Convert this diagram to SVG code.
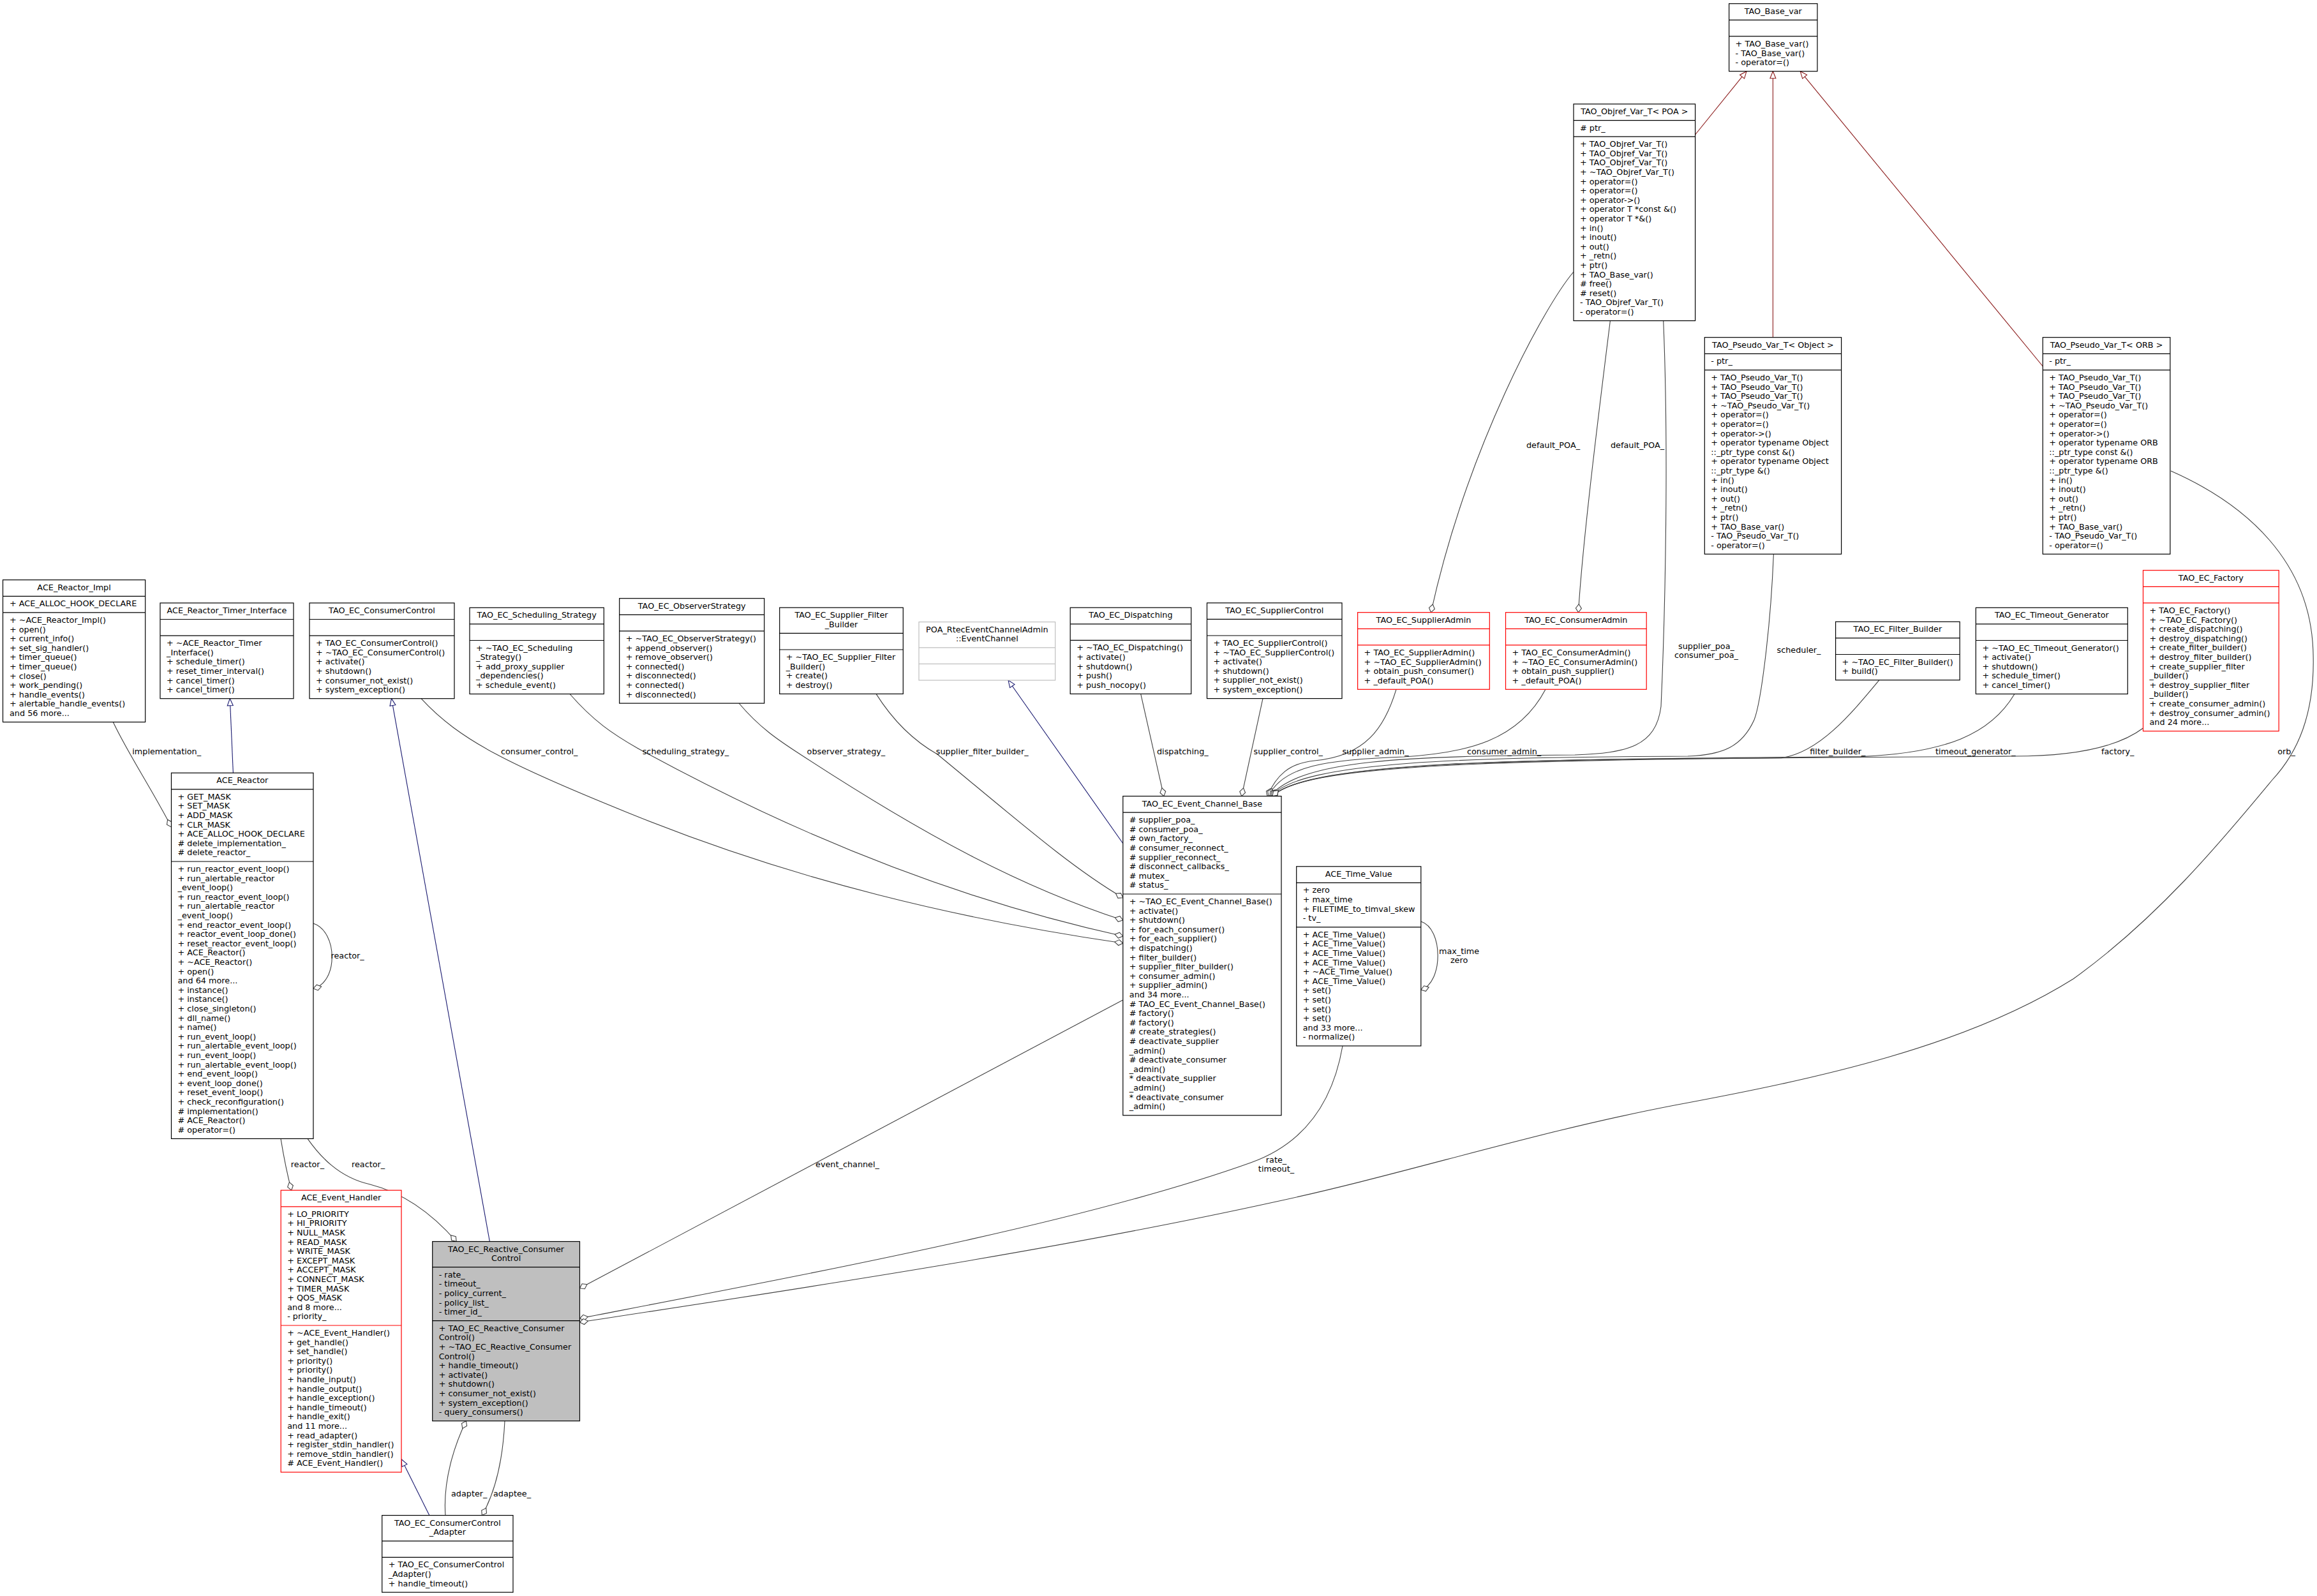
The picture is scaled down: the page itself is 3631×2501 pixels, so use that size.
<svg xmlns="http://www.w3.org/2000/svg" width="3631" height="2501" viewBox="0 0 3631 2501">
<style>
text{font-family:"DejaVu Sans","Liberation Sans",sans-serif;font-size:12.8px;fill:#000}
.c{text-anchor:middle}
.b{fill:#fff;stroke:#000;stroke-width:1.2}
.l{fill:none;stroke:#000;stroke-width:1.2}
.red .b,.red .l{stroke:#ff0000}
.gry .b,.gry .l{stroke:#bfbfbf}
.sel .b{fill:#bfbfbf}
.e{fill:none;stroke:#404040;stroke-width:1.1;marker-end:url(#dia)}
.ib{fill:none;stroke:#191970;stroke-width:1.1;marker-end:url(#trib)}
.ir{fill:none;stroke:#8b1a1a;stroke-width:1.1;marker-end:url(#trir)}
</style>
<defs>
<marker id="dia" markerUnits="userSpaceOnUse" markerWidth="16" markerHeight="12" viewBox="-14 -6 16 12" refX="0" refY="0" orient="auto"><path d="M0,0 L-6.5,-4.5 L-13,0 L-6.5,4.5Z" fill="#fff" stroke="#404040" stroke-width="1.1"/></marker>
<marker id="trib" markerUnits="userSpaceOnUse" markerWidth="14" markerHeight="12" viewBox="-13 -6 14 12" refX="0" refY="0" orient="auto"><path d="M0,0 L-11,-4.5 L-11,4.5Z" fill="#fff" stroke="#191970" stroke-width="1.1"/></marker>
<marker id="trir" markerUnits="userSpaceOnUse" markerWidth="14" markerHeight="12" viewBox="-13 -6 14 12" refX="0" refY="0" orient="auto"><path d="M0,0 L-11,-4.5 L-11,4.5Z" fill="#fff" stroke="#8b1a1a" stroke-width="1.1"/></marker>
</defs>
<rect width="3631" height="2501" fill="#fff"/>

<g id="edges">
<path class="ib" d="M365.4,1211.2 L360.3,1094.7"/>
<path class="ib" d="M767.4,1945.5 L613.5,1094.7"/>
<path class="ib" d="M672.8,2374.6 L629,2286.6"/>
<path class="ib" d="M1760,1322 L1580,1066"/>
<path class="ir" d="M2656.6,211 L2737,111.7"/>
<path class="ir" d="M2778.4,528.7 L2778.4,111.7"/>
<path class="ir" d="M3201.3,574 L2821.2,111.7"/>
<path class="e" d="M177.3,1131.5 C200,1180 240,1240 268.5,1296"/>
<path class="e" d="M491,1447 C530,1460 530,1540 491,1549"/>
<path class="e" d="M440,1784.4 C445,1815 450,1840 456.7,1865.2"/>
<path class="e" d="M482,1784.4 C500,1810 530,1845 580,1856 C635,1870 680,1905 715.2,1945.5"/>
<path class="e" d="M1759.8,1567 L908.5,2018.8"/>
<path class="e" d="M2104,1639 C2090,1720 2050,1790 1960,1822 C1700,1915 1300,1990 908.5,2066"/>
<path class="e" d="M3402,738 C3520,790 3622,880 3625,1024 C3628,1120 3600,1180 3561,1222 C3480,1320 3380,1440 3249,1534 C3080,1640 2850,1690 2624,1732 C2400,1775 2200,1840 2000,1883 C1650,1960 1250,2020 908.5,2072"/>
<path class="e" d="M698,2374.6 C694,2320 712,2265 730.4,2226.7"/>
<path class="e" d="M791,2226.7 C788,2290 775,2340 755.4,2374.6"/>
<path class="e" d="M2226.8,1444 C2262,1455 2262,1540 2226.8,1551"/>
<path class="e" d="M660,1094.7 C720,1160 800,1200 1000,1280 C1250,1380 1500,1440 1759.8,1478"/>
<path class="e" d="M893,1087.5 C930,1130 960,1150 1000,1173 C1250,1310 1500,1410 1759.8,1467"/>
<path class="e" d="M1158,1102 C1190,1140 1220,1160 1254,1182 C1450,1310 1600,1390 1759.8,1442"/>
<path class="e" d="M1373,1087.4 C1400,1130 1430,1160 1469,1182 C1600,1290 1680,1360 1759.8,1406.8"/>
<path class="e" d="M1787.7,1087.4 L1823.8,1247.6"/>
<path class="e" d="M1979,1094.6 L1945.8,1247.6"/>
<path class="e" d="M2188,1080.3 C2170,1140 2140,1185 2060,1192 C2020,1196 2000,1215 1986,1247.6"/>
<path class="e" d="M2422,1080.3 C2380,1160 2300,1180 2200,1186 C2080,1190 2010,1200 1988,1247.6"/>
<path class="e" d="M2606.7,502.6 C2615,700 2610,950 2603,1107 C2595,1170 2550,1180 2468,1183 C2200,1185 2040,1190 1990,1247.6"/>
<path class="e" d="M2779.4,868.3 C2775,980 2760,1100 2749,1128 C2730,1170 2700,1183 2645,1185 C2300,1187 2040,1192 1992,1247.6"/>
<path class="e" d="M2945,1065.7 C2900,1120 2850,1180 2791,1187.7 C2400,1190 2050,1192 1994,1247.6"/>
<path class="e" d="M3157,1087.5 C3120,1150 3050,1180 2916,1185.6 C2400,1190 2050,1192 1994,1247.6"/>
<path class="e" d="M3358.5,1141 C3320,1170 3250,1185 3155,1185 C2400,1190 2050,1192 1994,1247.6"/>
<path class="e" d="M2466,426 C2420,480 2300,700 2242.5,959.7"/>
<path class="e" d="M2523.4,502.6 C2505,650 2480,850 2473.5,959.7"/>
<text x="207.3" y="1182">implementation_</text>
<text x="518.5" y="1502">reactor_</text>
<text x="785" y="1182">consumer_control_</text>
<text x="1006.7" y="1182">scheduling_strategy_</text>
<text x="1264.6" y="1182">observer_strategy_</text>
<text x="1466.8" y="1182">supplier_filter_builder_</text>
<text x="1813" y="1182">dispatching_</text>
<text x="1964.5" y="1182">supplier_control_</text>
<text x="2103.4" y="1182">supplier_admin_</text>
<text x="2299" y="1182">consumer_admin_</text>
<text x="2836.3" y="1182">filter_builder_</text>
<text x="3032.9" y="1182">timeout_generator_</text>
<text x="3293" y="1182">factory_</text>
<text x="3569.2" y="1182">orb_</text>
<text class="c" x="2674" y="1016.5">supplier_poa_</text>
<text class="c" x="2674" y="1031">consumer_poa_</text>
<text class="c" x="2819" y="1022.5">scheduler_</text>
<text class="c" x="2434" y="702">default_POA_</text>
<text class="c" x="2566" y="702">default_POA_</text>
<text x="455.8" y="1829">reactor_</text>
<text x="551" y="1829">reactor_</text>
<text class="c" x="1328" y="1828.5">event_channel_</text>
<text class="c" x="2000" y="1821.5">rate_</text>
<text class="c" x="2000" y="1836">timeout_</text>
<text class="c" x="2286.6" y="1494.5">max_time</text>
<text class="c" x="2286.6" y="1509">zero</text>
<text x="707" y="2345">adapter_</text>
<text x="773" y="2345">adaptee_</text>
</g>

<g id="n1"><rect class="b" x="4.5" y="908.7" width="223.2" height="222.8"/><path class="l" d="M4.5,934.3h223.2M4.5,959.9h223.2"/>
<text class="c" x="116.1" y="924.7">ACE_Reactor_Impl</text>
<text x="15" y="950.3">+ ACE_ALLOC_HOOK_DECLARE</text>
<text x="15" y="975.9"><tspan x="15" dy="0">+ ~ACE_Reactor_Impl()</tspan><tspan x="15" dy="14.6">+ open()</tspan><tspan x="15" dy="14.6">+ current_info()</tspan><tspan x="15" dy="14.6">+ set_sig_handler()</tspan><tspan x="15" dy="14.6">+ timer_queue()</tspan><tspan x="15" dy="14.6">+ timer_queue()</tspan><tspan x="15" dy="14.6">+ close()</tspan><tspan x="15" dy="14.6">+ work_pending()</tspan><tspan x="15" dy="14.6">+ handle_events()</tspan><tspan x="15" dy="14.6">+ alertable_handle_events()</tspan><tspan x="15" dy="14.6">and 56 more...</tspan></text></g>

<g id="n2"><rect class="b" x="251" y="944.9" width="209" height="149.8"/><path class="l" d="M251,970.5h209M251,996.1h209"/>
<text class="c" x="355.5" y="960.9">ACE_Reactor_Timer_Interface</text>
<text x="261" y="1012.1"><tspan x="261" dy="0">+ ~ACE_Reactor_Timer</tspan><tspan x="261" dy="14.6">_Interface()</tspan><tspan x="261" dy="14.6">+ schedule_timer()</tspan><tspan x="261" dy="14.6">+ reset_timer_interval()</tspan><tspan x="261" dy="14.6">+ cancel_timer()</tspan><tspan x="261" dy="14.6">+ cancel_timer()</tspan></text></g>

<g id="n3"><rect class="b" x="485" y="944.9" width="227" height="149.8"/><path class="l" d="M485,970.5h227M485,996.1h227"/>
<text class="c" x="598.5" y="960.9">TAO_EC_ConsumerControl</text>
<text x="495" y="1012.1"><tspan x="495" dy="0">+ TAO_EC_ConsumerControl()</tspan><tspan x="495" dy="14.6">+ ~TAO_EC_ConsumerControl()</tspan><tspan x="495" dy="14.6">+ activate()</tspan><tspan x="495" dy="14.6">+ shutdown()</tspan><tspan x="495" dy="14.6">+ consumer_not_exist()</tspan><tspan x="495" dy="14.6">+ system_exception()</tspan></text></g>

<g id="n4"><rect class="b" x="736" y="952.3" width="210.4" height="135.2"/><path class="l" d="M736,977.9h210.4M736,1003.5h210.4"/>
<text class="c" x="841.2" y="968.3">TAO_EC_Scheduling_Strategy</text>
<text x="746" y="1019.5"><tspan x="746" dy="0">+ ~TAO_EC_Scheduling</tspan><tspan x="746" dy="14.6">_Strategy()</tspan><tspan x="746" dy="14.6">+ add_proxy_supplier</tspan><tspan x="746" dy="14.6">_dependencies()</tspan><tspan x="746" dy="14.6">+ schedule_event()</tspan></text></g>

<g id="n5"><rect class="b" x="970.7" y="937.7" width="227" height="164.4"/><path class="l" d="M970.7,963.3h227M970.7,988.9h227"/>
<text class="c" x="1084.2" y="953.7">TAO_EC_ObserverStrategy</text>
<text x="980.7" y="1004.9"><tspan x="980.7" dy="0">+ ~TAO_EC_ObserverStrategy()</tspan><tspan x="980.7" dy="14.6">+ append_observer()</tspan><tspan x="980.7" dy="14.6">+ remove_observer()</tspan><tspan x="980.7" dy="14.6">+ connected()</tspan><tspan x="980.7" dy="14.6">+ disconnected()</tspan><tspan x="980.7" dy="14.6">+ connected()</tspan><tspan x="980.7" dy="14.6">+ disconnected()</tspan></text></g>

<g id="n6"><rect class="b" x="1221.7" y="952.2" width="193.6" height="135.2"/><path class="l" d="M1221.7,992.4h193.6M1221.7,1018h193.6"/>
<text class="c" x="1318.5" y="968.2">TAO_EC_Supplier_Filter</text>
<text class="c" x="1318.5" y="982.8">_Builder</text>
<text x="1231.7" y="1034"><tspan x="1231.7" dy="0">+ ~TAO_EC_Supplier_Filter</tspan><tspan x="1231.7" dy="14.6">_Builder()</tspan><tspan x="1231.7" dy="14.6">+ create()</tspan><tspan x="1231.7" dy="14.6">+ destroy()</tspan></text></g>

<g id="n7" class="gry"><rect class="b" x="1440" y="974.6" width="213.7" height="91.4"/><path class="l" d="M1440,1014.8h213.7M1440,1040.4h213.7"/>
<text class="c" x="1546.85" y="990.6">POA_RtecEventChannelAdmin</text>
<text class="c" x="1546.85" y="1005.2">::EventChannel</text></g>

<g id="n8"><rect class="b" x="1677.2" y="952.2" width="189.5" height="135.2"/><path class="l" d="M1677.2,977.8h189.5M1677.2,1003.4h189.5"/>
<text class="c" x="1771.95" y="968.2">TAO_EC_Dispatching</text>
<text x="1687.2" y="1019.4"><tspan x="1687.2" dy="0">+ ~TAO_EC_Dispatching()</tspan><tspan x="1687.2" dy="14.6">+ activate()</tspan><tspan x="1687.2" dy="14.6">+ shutdown()</tspan><tspan x="1687.2" dy="14.6">+ push()</tspan><tspan x="1687.2" dy="14.6">+ push_nocopy()</tspan></text></g>

<g id="n9"><rect class="b" x="1891.5" y="944.8" width="211.5" height="149.8"/><path class="l" d="M1891.5,970.4h211.5M1891.5,996h211.5"/>
<text class="c" x="1997.25" y="960.8">TAO_EC_SupplierControl</text>
<text x="1901.5" y="1012"><tspan x="1901.5" dy="0">+ TAO_EC_SupplierControl()</tspan><tspan x="1901.5" dy="14.6">+ ~TAO_EC_SupplierControl()</tspan><tspan x="1901.5" dy="14.6">+ activate()</tspan><tspan x="1901.5" dy="14.6">+ shutdown()</tspan><tspan x="1901.5" dy="14.6">+ supplier_not_exist()</tspan><tspan x="1901.5" dy="14.6">+ system_exception()</tspan></text></g>

<g id="n10" class="red"><rect class="b" x="2127.6" y="959.7" width="206.7" height="120.6"/><path class="l" d="M2127.6,985.3h206.7M2127.6,1010.9h206.7"/>
<text class="c" x="2230.95" y="975.7">TAO_EC_SupplierAdmin</text>
<text x="2137.6" y="1026.9"><tspan x="2137.6" dy="0">+ TAO_EC_SupplierAdmin()</tspan><tspan x="2137.6" dy="14.6">+ ~TAO_EC_SupplierAdmin()</tspan><tspan x="2137.6" dy="14.6">+ obtain_push_consumer()</tspan><tspan x="2137.6" dy="14.6">+ _default_POA()</tspan></text></g>

<g id="n11" class="red"><rect class="b" x="2359.5" y="959.7" width="220.7" height="120.6"/><path class="l" d="M2359.5,985.3h220.7M2359.5,1010.9h220.7"/>
<text class="c" x="2469.85" y="975.7">TAO_EC_ConsumerAdmin</text>
<text x="2369.5" y="1026.9"><tspan x="2369.5" dy="0">+ TAO_EC_ConsumerAdmin()</tspan><tspan x="2369.5" dy="14.6">+ ~TAO_EC_ConsumerAdmin()</tspan><tspan x="2369.5" dy="14.6">+ obtain_push_supplier()</tspan><tspan x="2369.5" dy="14.6">+ _default_POA()</tspan></text></g>

<g id="n12"><rect class="b" x="2876.6" y="974.3" width="194.6" height="91.4"/><path class="l" d="M2876.6,999.9h194.6M2876.6,1025.5h194.6"/>
<text class="c" x="2973.9" y="990.3">TAO_EC_Filter_Builder</text>
<text x="2886.6" y="1041.5"><tspan x="2886.6" dy="0">+ ~TAO_EC_Filter_Builder()</tspan><tspan x="2886.6" dy="14.6">+ build()</tspan></text></g>

<g id="n13"><rect class="b" x="3096.4" y="952.3" width="237.9" height="135.2"/><path class="l" d="M3096.4,977.9h237.9M3096.4,1003.5h237.9"/>
<text class="c" x="3215.35" y="968.3">TAO_EC_Timeout_Generator</text>
<text x="3106.4" y="1019.5"><tspan x="3106.4" dy="0">+ ~TAO_EC_Timeout_Generator()</tspan><tspan x="3106.4" dy="14.6">+ activate()</tspan><tspan x="3106.4" dy="14.6">+ shutdown()</tspan><tspan x="3106.4" dy="14.6">+ schedule_timer()</tspan><tspan x="3106.4" dy="14.6">+ cancel_timer()</tspan></text></g>

<g id="n14" class="red"><rect class="b" x="3358.5" y="893.7" width="212.7" height="252"/><path class="l" d="M3358.5,919.3h212.7M3358.5,944.9h212.7"/>
<text class="c" x="3464.85" y="909.7">TAO_EC_Factory</text>
<text x="3368.5" y="960.9"><tspan x="3368.5" dy="0">+ TAO_EC_Factory()</tspan><tspan x="3368.5" dy="14.6">+ ~TAO_EC_Factory()</tspan><tspan x="3368.5" dy="14.6">+ create_dispatching()</tspan><tspan x="3368.5" dy="14.6">+ destroy_dispatching()</tspan><tspan x="3368.5" dy="14.6">+ create_filter_builder()</tspan><tspan x="3368.5" dy="14.6">+ destroy_filter_builder()</tspan><tspan x="3368.5" dy="14.6">+ create_supplier_filter</tspan><tspan x="3368.5" dy="14.6">_builder()</tspan><tspan x="3368.5" dy="14.6">+ destroy_supplier_filter</tspan><tspan x="3368.5" dy="14.6">_builder()</tspan><tspan x="3368.5" dy="14.6">+ create_consumer_admin()</tspan><tspan x="3368.5" dy="14.6">+ destroy_consumer_admin()</tspan><tspan x="3368.5" dy="14.6">and 24 more...</tspan></text></g>

<g id="n15"><rect class="b" x="2709.6" y="5.7" width="138.4" height="106"/><path class="l" d="M2709.6,31.3h138.4M2709.6,56.9h138.4"/>
<text class="c" x="2778.8" y="21.7">TAO_Base_var</text>
<text x="2719.6" y="72.9"><tspan x="2719.6" dy="0">+ TAO_Base_var()</tspan><tspan x="2719.6" dy="14.6">- TAO_Base_var()</tspan><tspan x="2719.6" dy="14.6">- operator=()</tspan></text></g>

<g id="n16"><rect class="b" x="2466" y="163" width="190.6" height="339.6"/><path class="l" d="M2466,188.6h190.6M2466,214.2h190.6"/>
<text class="c" x="2561.3" y="179">TAO_Objref_Var_T&lt; POA &gt;</text>
<text x="2476" y="204.6"># ptr_</text>
<text x="2476" y="230.2"><tspan x="2476" dy="0">+ TAO_Objref_Var_T()</tspan><tspan x="2476" dy="14.6">+ TAO_Objref_Var_T()</tspan><tspan x="2476" dy="14.6">+ TAO_Objref_Var_T()</tspan><tspan x="2476" dy="14.6">+ ~TAO_Objref_Var_T()</tspan><tspan x="2476" dy="14.6">+ operator=()</tspan><tspan x="2476" dy="14.6">+ operator=()</tspan><tspan x="2476" dy="14.6">+ operator-&gt;()</tspan><tspan x="2476" dy="14.6">+ operator T *const &amp;()</tspan><tspan x="2476" dy="14.6">+ operator T *&amp;()</tspan><tspan x="2476" dy="14.6">+ in()</tspan><tspan x="2476" dy="14.6">+ inout()</tspan><tspan x="2476" dy="14.6">+ out()</tspan><tspan x="2476" dy="14.6">+ _retn()</tspan><tspan x="2476" dy="14.6">+ ptr()</tspan><tspan x="2476" dy="14.6">+ TAO_Base_var()</tspan><tspan x="2476" dy="14.6"># free()</tspan><tspan x="2476" dy="14.6"># reset()</tspan><tspan x="2476" dy="14.6">- TAO_Objref_Var_T()</tspan><tspan x="2476" dy="14.6">- operator=()</tspan></text></g>

<g id="n17"><rect class="b" x="2671.3" y="528.7" width="214.3" height="339.6"/><path class="l" d="M2671.3,554.3h214.3M2671.3,579.9h214.3"/>
<text class="c" x="2778.45" y="544.7">TAO_Pseudo_Var_T&lt; Object &gt;</text>
<text x="2681.3" y="570.3">- ptr_</text>
<text x="2681.3" y="595.9"><tspan x="2681.3" dy="0">+ TAO_Pseudo_Var_T()</tspan><tspan x="2681.3" dy="14.6">+ TAO_Pseudo_Var_T()</tspan><tspan x="2681.3" dy="14.6">+ TAO_Pseudo_Var_T()</tspan><tspan x="2681.3" dy="14.6">+ ~TAO_Pseudo_Var_T()</tspan><tspan x="2681.3" dy="14.6">+ operator=()</tspan><tspan x="2681.3" dy="14.6">+ operator=()</tspan><tspan x="2681.3" dy="14.6">+ operator-&gt;()</tspan><tspan x="2681.3" dy="14.6">+ operator typename Object</tspan><tspan x="2681.3" dy="14.6">::_ptr_type const &amp;()</tspan><tspan x="2681.3" dy="14.6">+ operator typename Object</tspan><tspan x="2681.3" dy="14.6">::_ptr_type &amp;()</tspan><tspan x="2681.3" dy="14.6">+ in()</tspan><tspan x="2681.3" dy="14.6">+ inout()</tspan><tspan x="2681.3" dy="14.6">+ out()</tspan><tspan x="2681.3" dy="14.6">+ _retn()</tspan><tspan x="2681.3" dy="14.6">+ ptr()</tspan><tspan x="2681.3" dy="14.6">+ TAO_Base_var()</tspan><tspan x="2681.3" dy="14.6">- TAO_Pseudo_Var_T()</tspan><tspan x="2681.3" dy="14.6">- operator=()</tspan></text></g>

<g id="n18"><rect class="b" x="3201.3" y="528.7" width="199.6" height="339.6"/><path class="l" d="M3201.3,554.3h199.6M3201.3,579.9h199.6"/>
<text class="c" x="3301.1" y="544.7">TAO_Pseudo_Var_T&lt; ORB &gt;</text>
<text x="3211.3" y="570.3">- ptr_</text>
<text x="3211.3" y="595.9"><tspan x="3211.3" dy="0">+ TAO_Pseudo_Var_T()</tspan><tspan x="3211.3" dy="14.6">+ TAO_Pseudo_Var_T()</tspan><tspan x="3211.3" dy="14.6">+ TAO_Pseudo_Var_T()</tspan><tspan x="3211.3" dy="14.6">+ ~TAO_Pseudo_Var_T()</tspan><tspan x="3211.3" dy="14.6">+ operator=()</tspan><tspan x="3211.3" dy="14.6">+ operator=()</tspan><tspan x="3211.3" dy="14.6">+ operator-&gt;()</tspan><tspan x="3211.3" dy="14.6">+ operator typename ORB</tspan><tspan x="3211.3" dy="14.6">::_ptr_type const &amp;()</tspan><tspan x="3211.3" dy="14.6">+ operator typename ORB</tspan><tspan x="3211.3" dy="14.6">::_ptr_type &amp;()</tspan><tspan x="3211.3" dy="14.6">+ in()</tspan><tspan x="3211.3" dy="14.6">+ inout()</tspan><tspan x="3211.3" dy="14.6">+ out()</tspan><tspan x="3211.3" dy="14.6">+ _retn()</tspan><tspan x="3211.3" dy="14.6">+ ptr()</tspan><tspan x="3211.3" dy="14.6">+ TAO_Base_var()</tspan><tspan x="3211.3" dy="14.6">- TAO_Pseudo_Var_T()</tspan><tspan x="3211.3" dy="14.6">- operator=()</tspan></text></g>

<g id="n19"><rect class="b" x="268.5" y="1211.2" width="222.5" height="573.2"/><path class="l" d="M268.5,1236.8h222.5M268.5,1350h222.5"/>
<text class="c" x="379.75" y="1227.2">ACE_Reactor</text>
<text x="278.5" y="1252.8"><tspan x="278.5" dy="0">+ GET_MASK</tspan><tspan x="278.5" dy="14.6">+ SET_MASK</tspan><tspan x="278.5" dy="14.6">+ ADD_MASK</tspan><tspan x="278.5" dy="14.6">+ CLR_MASK</tspan><tspan x="278.5" dy="14.6">+ ACE_ALLOC_HOOK_DECLARE</tspan><tspan x="278.5" dy="14.6"># delete_implementation_</tspan><tspan x="278.5" dy="14.6"># delete_reactor_</tspan></text>
<text x="278.5" y="1366"><tspan x="278.5" dy="0">+ run_reactor_event_loop()</tspan><tspan x="278.5" dy="14.6">+ run_alertable_reactor</tspan><tspan x="278.5" dy="14.6">_event_loop()</tspan><tspan x="278.5" dy="14.6">+ run_reactor_event_loop()</tspan><tspan x="278.5" dy="14.6">+ run_alertable_reactor</tspan><tspan x="278.5" dy="14.6">_event_loop()</tspan><tspan x="278.5" dy="14.6">+ end_reactor_event_loop()</tspan><tspan x="278.5" dy="14.6">+ reactor_event_loop_done()</tspan><tspan x="278.5" dy="14.6">+ reset_reactor_event_loop()</tspan><tspan x="278.5" dy="14.6">+ ACE_Reactor()</tspan><tspan x="278.5" dy="14.6">+ ~ACE_Reactor()</tspan><tspan x="278.5" dy="14.6">+ open()</tspan><tspan x="278.5" dy="14.6">and 64 more...</tspan><tspan x="278.5" dy="14.6">+ instance()</tspan><tspan x="278.5" dy="14.6">+ instance()</tspan><tspan x="278.5" dy="14.6">+ close_singleton()</tspan><tspan x="278.5" dy="14.6">+ dll_name()</tspan><tspan x="278.5" dy="14.6">+ name()</tspan><tspan x="278.5" dy="14.6">+ run_event_loop()</tspan><tspan x="278.5" dy="14.6">+ run_alertable_event_loop()</tspan><tspan x="278.5" dy="14.6">+ run_event_loop()</tspan><tspan x="278.5" dy="14.6">+ run_alertable_event_loop()</tspan><tspan x="278.5" dy="14.6">+ end_event_loop()</tspan><tspan x="278.5" dy="14.6">+ event_loop_done()</tspan><tspan x="278.5" dy="14.6">+ reset_event_loop()</tspan><tspan x="278.5" dy="14.6">+ check_reconfiguration()</tspan><tspan x="278.5" dy="14.6"># implementation()</tspan><tspan x="278.5" dy="14.6"># ACE_Reactor()</tspan><tspan x="278.5" dy="14.6"># operator=()</tspan></text></g>

<g id="n20"><rect class="b" x="1759.8" y="1247.6" width="248.2" height="500.2"/><path class="l" d="M1759.8,1273.2h248.2M1759.8,1401h248.2"/>
<text class="c" x="1883.9" y="1263.6">TAO_EC_Event_Channel_Base</text>
<text x="1769.8" y="1289.2"><tspan x="1769.8" dy="0"># supplier_poa_</tspan><tspan x="1769.8" dy="14.6"># consumer_poa_</tspan><tspan x="1769.8" dy="14.6"># own_factory_</tspan><tspan x="1769.8" dy="14.6"># consumer_reconnect_</tspan><tspan x="1769.8" dy="14.6"># supplier_reconnect_</tspan><tspan x="1769.8" dy="14.6"># disconnect_callbacks_</tspan><tspan x="1769.8" dy="14.6"># mutex_</tspan><tspan x="1769.8" dy="14.6"># status_</tspan></text>
<text x="1769.8" y="1417"><tspan x="1769.8" dy="0">+ ~TAO_EC_Event_Channel_Base()</tspan><tspan x="1769.8" dy="14.6">+ activate()</tspan><tspan x="1769.8" dy="14.6">+ shutdown()</tspan><tspan x="1769.8" dy="14.6">+ for_each_consumer()</tspan><tspan x="1769.8" dy="14.6">+ for_each_supplier()</tspan><tspan x="1769.8" dy="14.6">+ dispatching()</tspan><tspan x="1769.8" dy="14.6">+ filter_builder()</tspan><tspan x="1769.8" dy="14.6">+ supplier_filter_builder()</tspan><tspan x="1769.8" dy="14.6">+ consumer_admin()</tspan><tspan x="1769.8" dy="14.6">+ supplier_admin()</tspan><tspan x="1769.8" dy="14.6">and 34 more...</tspan><tspan x="1769.8" dy="14.6"># TAO_EC_Event_Channel_Base()</tspan><tspan x="1769.8" dy="14.6"># factory()</tspan><tspan x="1769.8" dy="14.6"># factory()</tspan><tspan x="1769.8" dy="14.6"># create_strategies()</tspan><tspan x="1769.8" dy="14.6"># deactivate_supplier</tspan><tspan x="1769.8" dy="14.6">_admin()</tspan><tspan x="1769.8" dy="14.6"># deactivate_consumer</tspan><tspan x="1769.8" dy="14.6">_admin()</tspan><tspan x="1769.8" dy="14.6">* deactivate_supplier</tspan><tspan x="1769.8" dy="14.6">_admin()</tspan><tspan x="1769.8" dy="14.6">* deactivate_consumer</tspan><tspan x="1769.8" dy="14.6">_admin()</tspan></text></g>

<g id="n21"><rect class="b" x="2031.7" y="1357.8" width="195.1" height="281.2"/><path class="l" d="M2031.7,1383.4h195.1M2031.7,1452.8h195.1"/>
<text class="c" x="2129.25" y="1373.8">ACE_Time_Value</text>
<text x="2041.7" y="1399.4"><tspan x="2041.7" dy="0">+ zero</tspan><tspan x="2041.7" dy="14.6">+ max_time</tspan><tspan x="2041.7" dy="14.6">+ FILETIME_to_timval_skew</tspan><tspan x="2041.7" dy="14.6">- tv_</tspan></text>
<text x="2041.7" y="1468.8"><tspan x="2041.7" dy="0">+ ACE_Time_Value()</tspan><tspan x="2041.7" dy="14.6">+ ACE_Time_Value()</tspan><tspan x="2041.7" dy="14.6">+ ACE_Time_Value()</tspan><tspan x="2041.7" dy="14.6">+ ACE_Time_Value()</tspan><tspan x="2041.7" dy="14.6">+ ~ACE_Time_Value()</tspan><tspan x="2041.7" dy="14.6">+ ACE_Time_Value()</tspan><tspan x="2041.7" dy="14.6">+ set()</tspan><tspan x="2041.7" dy="14.6">+ set()</tspan><tspan x="2041.7" dy="14.6">+ set()</tspan><tspan x="2041.7" dy="14.6">+ set()</tspan><tspan x="2041.7" dy="14.6">and 33 more...</tspan><tspan x="2041.7" dy="14.6">- normalize()</tspan></text></g>

<g id="n22" class="red"><rect class="b" x="440.2" y="1865.2" width="188.8" height="441.8"/><path class="l" d="M440.2,1890.8h188.8M440.2,2077h188.8"/>
<text class="c" x="534.6" y="1881.2">ACE_Event_Handler</text>
<text x="450.2" y="1906.8"><tspan x="450.2" dy="0">+ LO_PRIORITY</tspan><tspan x="450.2" dy="14.6">+ HI_PRIORITY</tspan><tspan x="450.2" dy="14.6">+ NULL_MASK</tspan><tspan x="450.2" dy="14.6">+ READ_MASK</tspan><tspan x="450.2" dy="14.6">+ WRITE_MASK</tspan><tspan x="450.2" dy="14.6">+ EXCEPT_MASK</tspan><tspan x="450.2" dy="14.6">+ ACCEPT_MASK</tspan><tspan x="450.2" dy="14.6">+ CONNECT_MASK</tspan><tspan x="450.2" dy="14.6">+ TIMER_MASK</tspan><tspan x="450.2" dy="14.6">+ QOS_MASK</tspan><tspan x="450.2" dy="14.6">and 8 more...</tspan><tspan x="450.2" dy="14.6">- priority_</tspan></text>
<text x="450.2" y="2093"><tspan x="450.2" dy="0">+ ~ACE_Event_Handler()</tspan><tspan x="450.2" dy="14.6">+ get_handle()</tspan><tspan x="450.2" dy="14.6">+ set_handle()</tspan><tspan x="450.2" dy="14.6">+ priority()</tspan><tspan x="450.2" dy="14.6">+ priority()</tspan><tspan x="450.2" dy="14.6">+ handle_input()</tspan><tspan x="450.2" dy="14.6">+ handle_output()</tspan><tspan x="450.2" dy="14.6">+ handle_exception()</tspan><tspan x="450.2" dy="14.6">+ handle_timeout()</tspan><tspan x="450.2" dy="14.6">+ handle_exit()</tspan><tspan x="450.2" dy="14.6">and 11 more...</tspan><tspan x="450.2" dy="14.6">+ read_adapter()</tspan><tspan x="450.2" dy="14.6">+ register_stdin_handler()</tspan><tspan x="450.2" dy="14.6">+ remove_stdin_handler()</tspan><tspan x="450.2" dy="14.6"># ACE_Event_Handler()</tspan></text></g>

<g id="n23" class="sel"><rect class="b" x="677.7" y="1945.5" width="230.8" height="281.2"/><path class="l" d="M677.7,1985.7h230.8M677.7,2069.7h230.8"/>
<text class="c" x="793.1" y="1961.5">TAO_EC_Reactive_Consumer</text>
<text class="c" x="793.1" y="1976.1">Control</text>
<text x="687.7" y="2001.7"><tspan x="687.7" dy="0">- rate_</tspan><tspan x="687.7" dy="14.6">- timeout_</tspan><tspan x="687.7" dy="14.6">- policy_current_</tspan><tspan x="687.7" dy="14.6">- policy_list_</tspan><tspan x="687.7" dy="14.6">- timer_id_</tspan></text>
<text x="687.7" y="2085.7"><tspan x="687.7" dy="0">+ TAO_EC_Reactive_Consumer</tspan><tspan x="687.7" dy="14.6">Control()</tspan><tspan x="687.7" dy="14.6">+ ~TAO_EC_Reactive_Consumer</tspan><tspan x="687.7" dy="14.6">Control()</tspan><tspan x="687.7" dy="14.6">+ handle_timeout()</tspan><tspan x="687.7" dy="14.6">+ activate()</tspan><tspan x="687.7" dy="14.6">+ shutdown()</tspan><tspan x="687.7" dy="14.6">+ consumer_not_exist()</tspan><tspan x="687.7" dy="14.6">+ system_exception()</tspan><tspan x="687.7" dy="14.6">- query_consumers()</tspan></text></g>

<g id="n24"><rect class="b" x="598.7" y="2374.6" width="205.3" height="120.6"/><path class="l" d="M598.7,2414.8h205.3M598.7,2440.4h205.3"/>
<text class="c" x="701.35" y="2390.6">TAO_EC_ConsumerControl</text>
<text class="c" x="701.35" y="2405.2">_Adapter</text>
<text x="608.7" y="2456.4"><tspan x="608.7" dy="0">+ TAO_EC_ConsumerControl</tspan><tspan x="608.7" dy="14.6">_Adapter()</tspan><tspan x="608.7" dy="14.6">+ handle_timeout()</tspan></text></g>
</svg>
